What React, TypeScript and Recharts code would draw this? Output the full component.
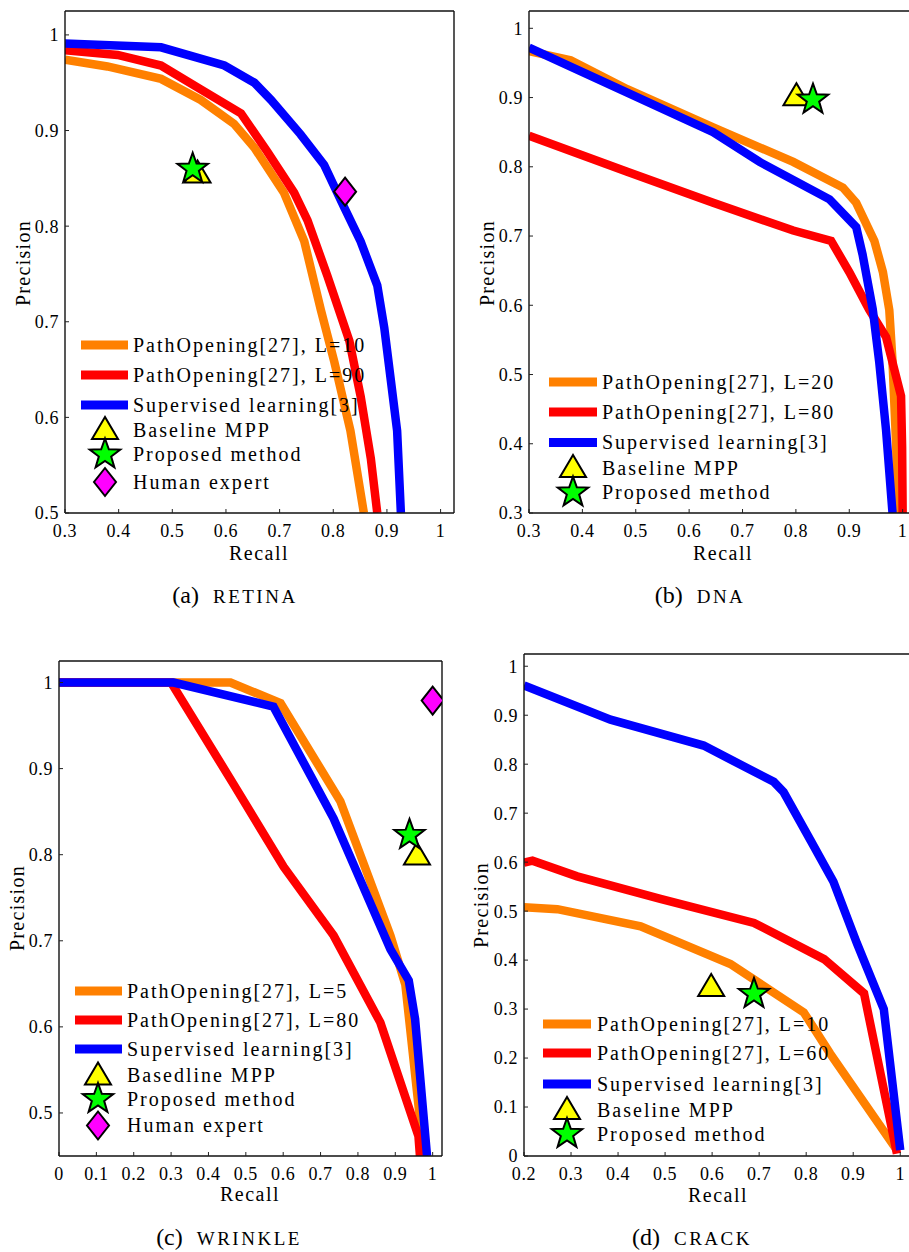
import { ComposedChart, Line, Scatter, XAxis, YAxis } from 'recharts';

type Pt = [number, number];

const FONT = "'Liberation Serif'";
const ORANGE = '#ff8000';
const RED = '#ff0000';
const BLUE = '#0000ff';

// (a) RETINA
const retinaL10: Pt[] = [[0.3, 0.974], [0.379, 0.967], [0.479, 0.954], [0.553, 0.932], [0.615, 0.907], [0.653, 0.882], [0.708, 0.835], [0.746, 0.784], [0.777, 0.712], [0.802, 0.658], [0.832, 0.586], [0.857, 0.5]];
const retinaL90: Pt[] = [[0.3, 0.984], [0.398, 0.979], [0.479, 0.968], [0.553, 0.943], [0.628, 0.918], [0.677, 0.878], [0.727, 0.835], [0.752, 0.806], [0.789, 0.748], [0.83, 0.68], [0.851, 0.622], [0.87, 0.557], [0.882, 0.5]];
const retinaSup: Pt[] = [[0.3, 0.991], [0.479, 0.987], [0.597, 0.968], [0.653, 0.95], [0.684, 0.932], [0.739, 0.896], [0.783, 0.864], [0.82, 0.82], [0.851, 0.784], [0.882, 0.738], [0.895, 0.694], [0.907, 0.64], [0.919, 0.586], [0.926, 0.5]];
const retinaBaseline: Pt[] = [[0.547, 0.855]];
const retinaProposed: Pt[] = [[0.538, 0.86]];
const retinaHuman: Pt[] = [[0.822, 0.836]];

// (b) DNA
const dnaL20: Pt[] = [[0.3, 0.967], [0.378, 0.954], [0.484, 0.912], [0.645, 0.857], [0.795, 0.807], [0.888, 0.77], [0.913, 0.748], [0.947, 0.693], [0.963, 0.648], [0.975, 0.593], [0.981, 0.519], [0.988, 0.395], [0.991, 0.3]];
const dnaL80: Pt[] = [[0.3, 0.845], [0.484, 0.793], [0.645, 0.748], [0.795, 0.708], [0.866, 0.693], [0.9, 0.648], [0.937, 0.594], [0.969, 0.554], [0.997, 0.469], [0.999, 0.395], [1.0, 0.3]];
const dnaSup: Pt[] = [[0.3, 0.972], [0.484, 0.907], [0.645, 0.85], [0.732, 0.807], [0.863, 0.753], [0.913, 0.713], [0.925, 0.673], [0.944, 0.594], [0.956, 0.519], [0.969, 0.419], [0.981, 0.3]];
const dnaBaseline: Pt[] = [[0.801, 0.902]];
const dnaProposed: Pt[] = [[0.832, 0.897]];

// (c) WRINKLE
const wrinkleL5: Pt[] = [[0, 1], [0.459, 1], [0.593, 0.976], [0.753, 0.862], [0.887, 0.706], [0.927, 0.649], [0.967, 0.489], [0.969, 0.45]];
const wrinkleL80: Pt[] = [[0, 1], [0.3, 1], [0.467, 0.882], [0.601, 0.786], [0.735, 0.706], [0.86, 0.605], [0.962, 0.473], [0.966, 0.45]];
const wrinkleSup: Pt[] = [[0, 1], [0.307, 1], [0.574, 0.972], [0.735, 0.842], [0.887, 0.69], [0.936, 0.654], [0.953, 0.609], [0.985, 0.45]];
const wrinkleBaseline: Pt[] = [[0.958, 0.799]];
const wrinkleProposed: Pt[] = [[0.938, 0.823]];
const wrinkleHuman: Pt[] = [[1.0, 0.979]];

// (d) CRACK
const crackL10: Pt[] = [[0.2, 0.508], [0.271, 0.504], [0.448, 0.469], [0.639, 0.392], [0.795, 0.293], [0.851, 0.209], [0.993, 0.012]];
const crackL60: Pt[] = [[0.2, 0.599], [0.218, 0.603], [0.313, 0.571], [0.49, 0.525], [0.689, 0.476], [0.838, 0.402], [0.923, 0.332], [0.993, 0.005]];
const crackSup: Pt[] = [[0.2, 0.961], [0.384, 0.891], [0.582, 0.838], [0.731, 0.764], [0.752, 0.743], [0.809, 0.645], [0.858, 0.56], [0.908, 0.434], [0.965, 0.3], [1.0, 0.012]];
const crackBaseline: Pt[] = [[0.598, 0.345]];
const crackProposed: Pt[] = [[0.689, 0.331]];

const ticks00 = [0, 0.1, 0.2, 0.3, 0.4, 0.5, 0.6, 0.7, 0.8, 0.9, 1];
const ticks02 = [0.2, 0.3, 0.4, 0.5, 0.6, 0.7, 0.8, 0.9, 1];
const ticks03 = [0.3, 0.4, 0.5, 0.6, 0.7, 0.8, 0.9, 1];
const ticks05 = [0.5, 0.6, 0.7, 0.8, 0.9, 1];

const toXY = (pts: Pt[]) => pts.map(([x, y]) => ({ x, y }));
const fmt = (v: number) => String(Number(v.toFixed(2)));

type MarkerKind = 'tri' | 'star' | 'dia';

function marker(kind: MarkerKind, cx: number, cy: number) {
  if (kind === 'tri') {
    const pts = `${cx},${cy - 13} ${cx - 13},${cy + 9} ${cx + 13},${cy + 9}`;
    return <polygon points={pts} fill="#ffff00" stroke="#000" strokeWidth={2} />;
  }
  if (kind === 'star') {
    const p: string[] = [];
    for (let i = 0; i < 10; i++) {
      const r = i % 2 === 0 ? 16 : 6.5;
      const a = -Math.PI / 2 + (i * Math.PI) / 5;
      p.push(`${cx + r * Math.cos(a)},${cy + r * Math.sin(a)}`);
    }
    return <polygon points={p.join(' ')} fill="#00ff00" stroke="#000" strokeWidth={2} />;
  }
  const pts = `${cx},${cy - 14} ${cx + 11},${cy} ${cx},${cy + 14} ${cx - 11},${cy}`;
  return <polygon points={pts} fill="#ff00ff" stroke="#000" strokeWidth={2} />;
}

const shapeFor = (kind: MarkerKind) => (props: any) => <g>{marker(kind, props.cx, props.cy)}</g>;

interface Series { data: Pt[]; color: string; label: string }
interface Mark { data: Pt[]; kind: MarkerKind; label: string }
interface PanelCfg {
  id: string;
  box: { left: number; top: number; width: number; height: number };
  xDomain: [number, number];
  yDomain: [number, number];
  xTicks: number[];
  yTicks: number[];
  series: Series[];
  marks: Mark[];
  legend: { x1: number; x2: number; textX: number; markX: number; rows: number[] };
  precision: [number, number];
  recall: [number, number];
  caption: { tag: string; name: string; x: number; y: number };
}

const PANELS: PanelCfg[] = [
  {
    id: 'a',
    box: { left: 65, top: 11, width: 389, height: 502 },
    xDomain: [0.3, 1.025], yDomain: [0.5, 1.025], xTicks: ticks03, yTicks: ticks05,
    series: [
      { data: retinaL10, color: ORANGE, label: 'PathOpening[27], L=10' },
      { data: retinaL90, color: RED, label: 'PathOpening[27], L=90' },
      { data: retinaSup, color: BLUE, label: 'Supervised learning[3]' },
    ],
    marks: [
      { data: retinaBaseline, kind: 'tri', label: 'Baseline MPP' },
      { data: retinaProposed, kind: 'star', label: 'Proposed method' },
      { data: retinaHuman, kind: 'dia', label: 'Human expert' },
    ],
    legend: { x1: 81, x2: 128, textX: 133, markX: 105, rows: [345, 375, 405, 430, 454.5, 482] },
    precision: [29.5, 263],
    recall: [259, 559.5],
    caption: { tag: '(a)', name: 'RETINA', x: 235, y: 603 },
  },
  {
    id: 'b',
    box: { left: 529, top: 11, width: 387, height: 502 },
    xDomain: [0.3, 1.025], yDomain: [0.3, 1.025], xTicks: ticks03, yTicks: ticks03,
    series: [
      { data: dnaL20, color: ORANGE, label: 'PathOpening[27], L=20' },
      { data: dnaL80, color: RED, label: 'PathOpening[27], L=80' },
      { data: dnaSup, color: BLUE, label: 'Supervised learning[3]' },
    ],
    marks: [
      { data: dnaBaseline, kind: 'tri', label: 'Baseline MPP' },
      { data: dnaProposed, kind: 'star', label: 'Proposed method' },
    ],
    legend: { x1: 549, x2: 597, textX: 602, markX: 573, rows: [382, 412, 442.5, 468, 492.5] },
    precision: [494, 263],
    recall: [723, 559.5],
    caption: { tag: '(b)', name: 'DNA', x: 700, y: 603 },
  },
  {
    id: 'c',
    box: { left: 59, top: 661, width: 383, height: 495 },
    xDomain: [0, 1.025], yDomain: [0.45, 1.025], xTicks: ticks00, yTicks: ticks05,
    series: [
      { data: wrinkleL5, color: ORANGE, label: 'PathOpening[27], L=5' },
      { data: wrinkleL80, color: RED, label: 'PathOpening[27], L=80' },
      { data: wrinkleSup, color: BLUE, label: 'Supervised learning[3]' },
    ],
    marks: [
      { data: wrinkleBaseline, kind: 'tri', label: 'Basedline MPP' },
      { data: wrinkleProposed, kind: 'star', label: 'Proposed method' },
      { data: wrinkleHuman, kind: 'dia', label: 'Human expert' },
    ],
    legend: { x1: 75, x2: 122, textX: 127, markX: 98, rows: [991, 1020, 1049, 1075.5, 1099, 1125.5] },
    precision: [24, 908],
    recall: [250, 1201],
    caption: { tag: '(c)', name: 'WRINKLE', x: 229, y: 1245 },
  },
  {
    id: 'd',
    box: { left: 524, top: 654, width: 388, height: 502 },
    xDomain: [0.2, 1.025], yDomain: [0, 1.025], xTicks: ticks02, yTicks: ticks00,
    series: [
      { data: crackL10, color: ORANGE, label: 'PathOpening[27], L=10' },
      { data: crackL60, color: RED, label: 'PathOpening[27], L=60' },
      { data: crackSup, color: BLUE, label: 'Supervised learning[3]' },
    ],
    marks: [
      { data: crackBaseline, kind: 'tri', label: 'Baseline MPP' },
      { data: crackProposed, kind: 'star', label: 'Proposed method' },
    ],
    legend: { x1: 543, x2: 591, textX: 597, markX: 567, rows: [1024, 1053, 1084, 1110, 1134] },
    precision: [488, 905],
    recall: [718, 1201.5],
    caption: { tag: '(d)', name: 'CRACK', x: 692, y: 1245 },
  },
];

const PAD_L = 50;
const PAD_T = 6;
const PAD_R = 6;
const PAD_B = 40;

function Panel({ p }: { p: PanelCfg }) {
  const w = PAD_L + p.box.width + PAD_R;
  const h = PAD_T + p.box.height + PAD_B;
  const tick = { fill: '#000', fontSize: 18, fontFamily: FONT, letterSpacing: 0.6 };
  const axisLine = { stroke: '#111', strokeWidth: 1.4 };
  const tickLine = { stroke: '#222', strokeWidth: 1 };
  return (
    <div style={{ position: 'absolute', left: p.box.left - PAD_L, top: p.box.top - PAD_T }}>
      <ComposedChart width={w} height={h} margin={{ top: PAD_T - 1, right: PAD_R - 1, bottom: 0, left: 0 }}>
        <XAxis
          type="number"
          dataKey="x"
          domain={p.xDomain}
          ticks={p.xTicks}
          interval={0}
          allowDataOverflow
          height={PAD_B}
          tickSize={-4}
          tickMargin={15}
          tickFormatter={fmt}
          tick={tick}
          axisLine={axisLine}
          tickLine={tickLine}
        />
        <XAxis
          xAxisId="top"
          orientation="top"
          type="number"
          domain={p.xDomain}
          ticks={p.xTicks}
          interval={0}
          allowDataOverflow
          height={1}
          tickSize={-4}
          tick={false}
          axisLine={axisLine}
          tickLine={tickLine}
        />
        <YAxis
          type="number"
          dataKey="y"
          domain={p.yDomain}
          ticks={p.yTicks}
          interval={0}
          allowDataOverflow
          width={PAD_L}
          tickSize={-4}
          tickMargin={10}
          tickFormatter={fmt}
          tick={tick}
          axisLine={axisLine}
          tickLine={tickLine}
        />
        <YAxis
          yAxisId="right"
          orientation="right"
          type="number"
          domain={p.yDomain}
          ticks={p.yTicks}
          interval={0}
          allowDataOverflow
          width={1}
          tickSize={-4}
          tick={false}
          axisLine={axisLine}
          tickLine={tickLine}
        />
        {p.series.map((s) => (
          <Line
            key={s.label}
            data={toXY(s.data)}
            dataKey="y"
            type="linear"
            stroke={s.color}
            strokeWidth={8.5}
            dot={false}
            activeDot={false}
            isAnimationActive={false}
          />
        ))}
        {p.marks.map((m) => (
          <Scatter
            key={m.label}
            data={toXY(m.data)}
            dataKey="y"
            shape={shapeFor(m.kind)}
            isAnimationActive={false}
          />
        ))}
      </ComposedChart>
    </div>
  );
}

function Texts({ p }: { p: PanelCfg }) {
  const lg = p.legend;
  const rows = [
    ...p.series.map((s) => ({ kind: 'line' as const, color: s.color, label: s.label })),
    ...p.marks.map((m) => ({ kind: m.kind, color: '', label: m.label })),
  ];
  return (
    <g>
      {rows.map((r, i) => {
        const y = lg.rows[i];
        return (
          <g key={r.label}>
            {r.kind === 'line' ? (
              <line x1={lg.x1} x2={lg.x2} y1={y} y2={y} stroke={r.color} strokeWidth={9} />
            ) : (
              marker(r.kind, lg.markX, y)
            )}
            <text x={lg.textX} y={y + 6.5} fontFamily={FONT} fontSize={20} letterSpacing={2} fill="#000">
              {r.label}
            </text>
          </g>
        );
      })}
      <text
        x={p.precision[0]}
        y={p.precision[1]}
        transform={`rotate(-90 ${p.precision[0]} ${p.precision[1]})`}
        textAnchor="middle"
        fontFamily={FONT}
        fontSize={20}
        letterSpacing={1.3}
        fill="#000"
      >
        Precision
      </text>
      <text x={p.recall[0]} y={p.recall[1]} textAnchor="middle" fontFamily={FONT} fontSize={20} letterSpacing={1.5} fill="#000">
        Recall
      </text>
      <text x={p.caption.x} y={p.caption.y} textAnchor="middle" fontFamily={FONT} fill="#000">
        <tspan fontSize={24}>{p.caption.tag}</tspan>
        <tspan dx={14} fontSize={19} letterSpacing={2.5}>
          {p.caption.name}
        </tspan>
      </text>
    </g>
  );
}

export default function App() {
  return (
    <div
      style={{
        position: 'absolute',
        left: 0,
        top: 0,
        width: 909,
        height: 1252,
        overflow: 'hidden',
        background: '#fff',
      }}
    >
      {PANELS.map((p) => (
        <Panel key={p.id} p={p} />
      ))}
      <svg width={909} height={1252} style={{ position: 'absolute', left: 0, top: 0, pointerEvents: 'none' }}>
        {PANELS.map((p) => (
          <Texts key={p.id} p={p} />
        ))}
      </svg>
    </div>
  );
}
